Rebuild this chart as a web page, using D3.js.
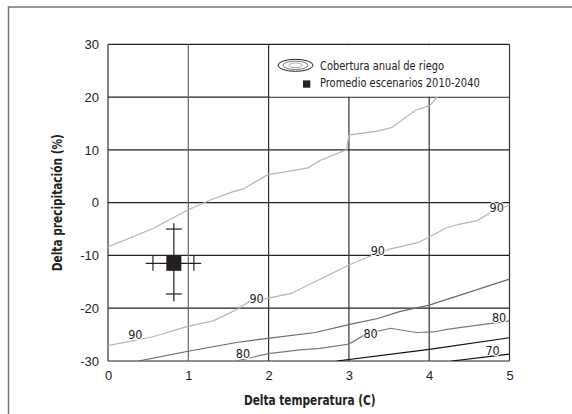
<!DOCTYPE html>
<html>
<head>
<meta charset="utf-8">
<script src="https://cdn.jsdelivr.net/npm/d3@7"></script>
<style>
  html, body { margin: 0; padding: 0; background: #fff; }
  #chart svg { display: block; font-family: "Liberation Sans Narrow", "DejaVu Sans Condensed", sans-serif; }
</style>
</head>
<body>
<div id="chart"></div>
<script>
// Axis ticks
const xTicks = [0, 1, 2, 3, 4, 5];
const yTicks = [-30, -20, -10, 0, 10, 20, 30];

// Contour lines: [delta T, delta P]
const contour90Upper = [[0,-8.4],[0.56,-4.9],[0.98,-1.5],[1.29,0.6],[1.55,2.05],[1.68,2.55],[1.99,5.3],[2.19,5.8],[2.49,6.6],[2.64,8.0],[2.97,10.0],[3.0,12.8],[3.37,13.6],[3.53,14.2],[3.83,17.5],[4.01,18.4],[4.1,20.1],[4.25,23]];
const contour90Lower = [[0,-27.1],[0.56,-25.4],[0.98,-23.5],[1.31,-22.4],[1.6,-20.3],[1.75,-18.8],[2.0,-18.1],[2.28,-17.2],[2.64,-14.5],[3.0,-11.8],[3.24,-10.3],[3.51,-8.8],[3.76,-7.9],[3.87,-7.5],[4.0,-6.5],[4.21,-4.8],[4.37,-4.1],[4.6,-3.4],[4.76,-1.9],[5,-0.5]];
const contourMid = [[0.38,-30],[0.98,-28.2],[1.6,-26.5],[1.99,-25.7],[2.58,-24.6],[3.0,-23.1],[3.37,-21.9],[3.64,-20.6],[4.0,-19.4],[5,-14.5]];
const contour80 = [[1.6,-30],[2.0,-28.6],[2.39,-27.9],[2.64,-27.6],[3.0,-26.8],[3.22,-24.8],[3.52,-23.8],[3.84,-24.6],[4.05,-24.5],[4.22,-24.0],[5,-22.4]];
const contour70Upper = [[2.85,-30],[4.0,-27.8],[5,-25.6]];
const contour70Lower = [[4.28,-30],[5,-28.7]];

const contours = [
    { points: contour90Upper, color: "#b5b5b5" },
    { points: contour90Lower, color: "#b5b5b5" },
    { points: contourMid, color: "#6a6a6a" },
    { points: contour80, color: "#7a7a7a" },
    { points: contour70Upper, color: "#111" },
    { points: contour70Lower, color: "#111" }
];

// Contour labels: [delta T, delta P, text]
const contourLabels = [
    [0.34, -24.9, "90"],
    [1.85, -18.1, "90"],
    [3.36, -9.1, "90"],
    [4.84, -0.9, "90"],
    [1.68, -28.5, "80"],
    [3.27, -24.7, "80"],
    [4.87, -21.7, "80"],
    [4.79, -28.0, "70"]
];

// Scenario mean with its ranges
const meanPoint = [0.82, -11.5];
const tempRange = [0.47, 1.16];
const tempCaps = [0.56, 1.07];
const precRange = [-18.75, -3.9];
const precCaps = [-17.3, -5.0];

const legendItems = ["Cobertura anual de riego", "Promedio escenarios 2010-2040"];

function createChart(containerId) {
    const W = 572, H = 414;
    const margin = { top: 44.3, right: 62.5, bottom: 53, left: 108 };
    const width = W - margin.left - margin.right;
    const height = H - margin.top - margin.bottom;

    const root = d3.select(`#${containerId}`).append("svg")
        .attr("width", W)
        .attr("height", H);

    // outer frame
    root.append("path")
        .attr("d", `M8.5,${H} L8.5,7 L${W},7`)
        .attr("fill", "none")
        .attr("stroke", "#777")
        .attr("stroke-width", 1.5);

    const svg = root.append("g")
        .attr("transform", `translate(${margin.left},${margin.top})`);

    const x = d3.scaleLinear().domain([0, 5]).range([0, width]);
    const y = d3.scaleLinear().domain([-30, 30]).range([height, 0]);

    svg.append("clipPath").attr("id", "plotclip")
        .append("rect").attr("width", width).attr("height", height);

    // grid
    svg.selectAll(".hgrid").data(yTicks).join("line")
        .attr("x1", 0).attr("x2", width)
        .attr("y1", d => y(d)).attr("y2", d => y(d))
        .attr("stroke", "#222").attr("stroke-width", 1.2);
    svg.selectAll(".vgrid").data(xTicks).join("line")
        .attr("x1", d => x(d)).attr("x2", d => x(d))
        .attr("y1", 0).attr("y2", height)
        .attr("stroke", d => d === 1 ? "#666" : "#333").attr("stroke-width", 1.2);

    // contours
    const line = d3.line().x(d => x(d[0])).y(d => y(d[1]));
    const cg = svg.append("g").attr("clip-path", "url(#plotclip)");
    contours.forEach(c => {
        cg.append("path")
            .attr("d", line(c.points))
            .attr("fill", "none")
            .attr("stroke", c.color)
            .attr("stroke-width", 1.2);
    });

    // contour labels
    svg.selectAll(".clabel").data(contourLabels).join("text")
        .attr("x", d => x(d[0]))
        .attr("y", d => y(d[1]))
        .attr("dy", "0.36em")
        .attr("text-anchor", "middle")
        .attr("font-size", "12.5px")
        .attr("fill", "#222")
        .attr("stroke", "#fff")
        .attr("stroke-width", 2)
        .attr("paint-order", "stroke")
        .text(d => d[2]);

    // legend box covers the grid
    const lx = x(2) + 1.5;
    svg.append("rect")
        .attr("x", lx).attr("y", y(30) + 1)
        .attr("width", x(5) - lx - 1).attr("height", y(20) - y(30) - 1.5)
        .attr("fill", "#fff");

    const ex = 295.5 - margin.left, ey = 65.3 - margin.top;
    [[17.5, 6, "#222"], [12.5, 4.2, "#777"], [6.5, 2.4, "#aaa"]].forEach(e => {
        svg.append("ellipse")
            .attr("cx", ex).attr("cy", ey)
            .attr("rx", e[0]).attr("ry", e[1])
            .attr("fill", "none").attr("stroke", e[2]).attr("stroke-width", 1);
    });
    svg.append("rect")
        .attr("x", 303 - margin.left).attr("y", 80.4 - margin.top)
        .attr("width", 7.3).attr("height", 7.3)
        .attr("fill", "#222");
    svg.selectAll(".legtext").data(legendItems).join("text")
        .attr("transform", (d, i) => `translate(${320 - margin.left},${69.5 - margin.top + i * 17.5}) scale(0.88,1)`)
        .attr("font-size", "12.5px")
        .attr("fill", "#222")
        .text(d => d);

    // mean with ranges
    const mx = x(meanPoint[0]), my = y(meanPoint[1]);
    const eb = svg.append("g").attr("stroke", "#222").attr("stroke-width", 1.2);
    eb.append("line").attr("x1", mx).attr("x2", mx)
        .attr("y1", y(precRange[0])).attr("y2", y(precRange[1]));
    eb.append("line").attr("x1", x(tempRange[0])).attr("x2", x(tempRange[1]))
        .attr("y1", my).attr("y2", my);
    precCaps.forEach(p => {
        eb.append("line").attr("x1", mx - 8).attr("x2", mx + 8)
            .attr("y1", y(p)).attr("y2", y(p));
    });
    tempCaps.forEach(t => {
        eb.append("line").attr("x1", x(t)).attr("x2", x(t))
            .attr("y1", my - 7.5).attr("y2", my + 7.5);
    });
    svg.append("rect")
        .attr("x", mx - 7.5).attr("y", my - 7.5)
        .attr("width", 15).attr("height", 15)
        .attr("fill", "#231f20");

    // axes (labels only)
    svg.append("g")
        .attr("transform", `translate(0,${height})`)
        .call(d3.axisBottom(x).tickValues(xTicks).tickFormat(d => String(d)).tickSize(0).tickPadding(10))
        .call(g => g.select(".domain").remove())
        .selectAll("text")
        .attr("font-size", "13px")
        .attr("fill", "#222");

    svg.append("g")
        .call(d3.axisLeft(y).tickValues(yTicks).tickFormat(d => String(d)).tickSize(0).tickPadding(9))
        .call(g => g.select(".domain").remove())
        .selectAll("text")
        .attr("font-size", "13px")
        .attr("fill", "#222");
    svg.selectAll("g text").attr("font-family", null);

    // axis titles, squeezed to a condensed width
    svg.append("text")
        .attr("transform", `translate(${width / 2 + 1},${405 - margin.top}) scale(0.84,1)`)
        .attr("text-anchor", "middle")
        .attr("font-size", "14px")
        .attr("font-weight", "bold")
        .attr("fill", "#222")
        .text("Delta temperatura (C)");

    svg.append("text")
        .attr("transform", `translate(${62 - margin.left},${height / 2}) rotate(-90) scale(0.84,1)`)
        .attr("text-anchor", "middle")
        .attr("font-size", "14px")
        .attr("font-weight", "bold")
        .attr("fill", "#222")
        .text("Delta precipitación (%)");
}

createChart("chart");
</script>
</body>
</html>
